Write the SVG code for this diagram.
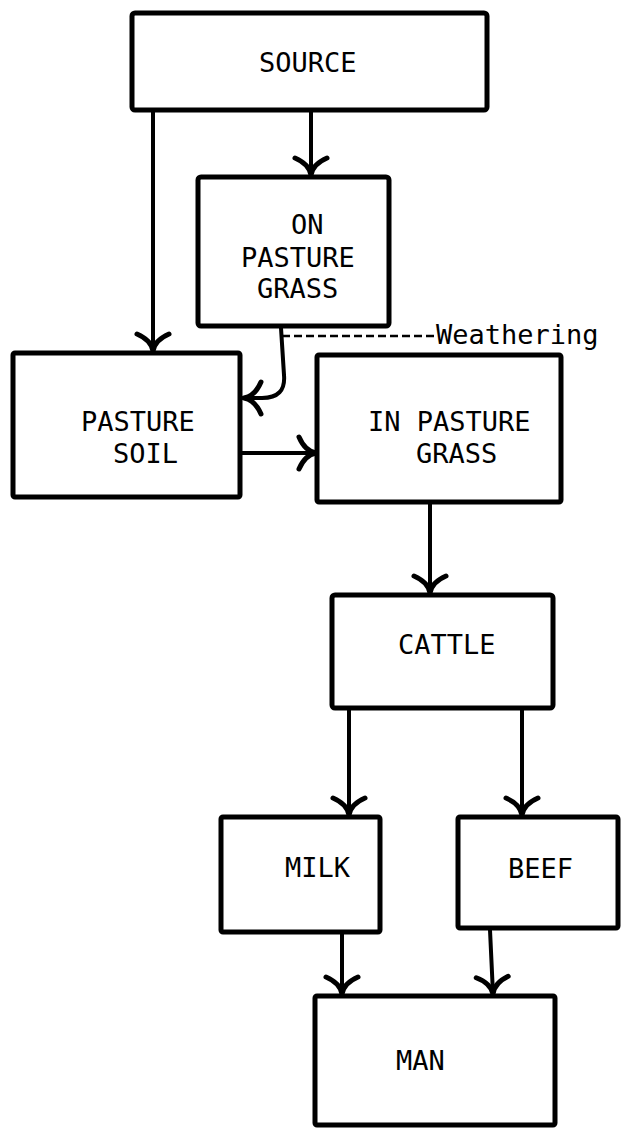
<svg xmlns="http://www.w3.org/2000/svg" width="622" height="1128" viewBox="0 0 622 1128">
<style>
.box{fill:#fff;stroke:#000;stroke-width:5;stroke-linejoin:round}
.lbl{font-family:"DejaVu Sans Mono","Liberation Mono",monospace;font-size:27px;fill:#000}
.con{fill:none;stroke:#000;stroke-width:4;stroke-linecap:round}
.dash{fill:none;stroke:#000;stroke-width:2.5;stroke-dasharray:8,4}
</style>
<defs>
<marker id="ah" markerUnits="userSpaceOnUse" orient="auto" viewBox="-20 -20 40 40" refX="0" refY="0" markerWidth="40" markerHeight="40" overflow="visible">
<path d="M-17,-16 Q-11,-2 0,0 M-17,16 Q-11,2 0,0" fill="none" stroke="#000" stroke-width="5" stroke-linecap="round"/>
</marker>
</defs>
<rect width="622" height="1128" fill="#fff"/>
<g id="connectors">
<path class="con" d="M153,112 L153,351" marker-end="url(#ah)"/>
<path class="con" d="M311,112 L311,175" marker-end="url(#ah)"/>
<path class="con" d="M281,328 L284,375 Q286,398 262,398 L244,398" marker-end="url(#ah)"/>
<path class="dash" d="M282,336 L435,336"/>
<path class="con" d="M242,453 L316,453" marker-end="url(#ah)"/>
<path class="con" d="M430,504 L430,593" marker-end="url(#ah)"/>
<path class="con" d="M349,710 L349,815" marker-end="url(#ah)"/>
<path class="con" d="M522,710 L522,815" marker-end="url(#ah)"/>
<path class="con" d="M342,934 L342,994" marker-end="url(#ah)"/>
<path class="con" d="M490,930 L493,994" marker-end="url(#ah)"/>
</g>
<text class="lbl" x="436" y="344">Weathering</text>
<g id="source">
<rect class="box" x="132" y="13" width="355" height="97" rx="3"/>
<text class="lbl" x="259" y="72">SOURCE</text>
</g>
<g id="on-pasture-grass">
<rect class="box" x="198" y="177" width="191" height="149" rx="3"/>
<text class="lbl" x="291" y="234">ON</text>
<text class="lbl" x="241" y="267">PASTURE</text>
<text class="lbl" x="257" y="298">GRASS</text>
</g>
<g id="pasture-soil">
<rect class="box" x="13" y="353" width="227" height="144" rx="2"/>
<text class="lbl" x="81" y="431">PASTURE</text>
<text class="lbl" x="113" y="463">SOIL</text>
</g>
<g id="in-pasture-grass">
<rect class="box" x="317" y="355" width="244" height="147" rx="2"/>
<text class="lbl" x="368" y="431">IN PASTURE</text>
<text class="lbl" x="416" y="463">GRASS</text>
</g>
<g id="cattle">
<rect class="box" x="332" y="595" width="221" height="113" rx="3"/>
<text class="lbl" x="398" y="654">CATTLE</text>
</g>
<g id="milk">
<rect class="box" x="221" y="817" width="159" height="115" rx="2"/>
<text class="lbl" x="285" y="877">MILK</text>
</g>
<g id="beef">
<rect class="box" x="458" y="817" width="160" height="111" rx="2"/>
<text class="lbl" x="508" y="878">BEEF</text>
</g>
<g id="man">
<rect class="box" x="315" y="996" width="240" height="129" rx="2"/>
<text class="lbl" x="396" y="1070">MAN</text>
</g>
</svg>
